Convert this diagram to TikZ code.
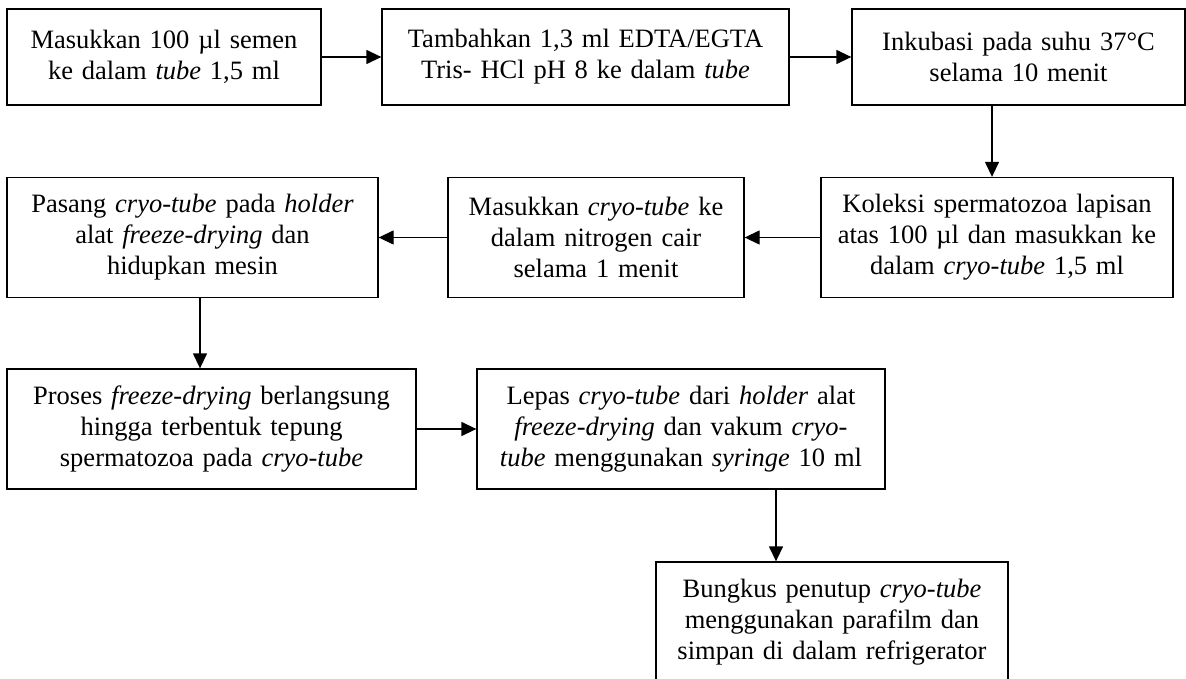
\documentclass[tikz,border=0pt]{standalone}
\usepackage{fontspec}
\setmainfont{Liberation Serif}
\usetikzlibrary{arrows.meta}
\tikzset{
  stepbox/.style={draw, line width=1.3pt, inner sep=0pt, align=center,
    font=\fontsize{26.5}{31}\selectfont},
  arr/.style={line width=1.3pt, -{Triangle[length=15pt,width=14pt]}}
}
\begin{document}
\begin{tikzpicture}[x=1pt,y=-1pt]
\useasboundingbox (0,0) rectangle (1186,679);
% row 1
\node[stepbox, minimum width=314pt, minimum height=96pt, text width=310pt] (b1) at (164,57)
  {Masukkan 100 µl semen\\ke dalam \textit{tube} 1,5 ml};
\node[stepbox, minimum width=407pt, minimum height=96pt, text width=403pt] (b2) at (585.5,57)
  {Tambahkan 1,3 ml EDTA/EGTA\\Tris- HCl pH 8 ke dalam \textit{tube}};
\node[stepbox, minimum width=333pt, minimum height=96pt, text width=329pt] (b3) at (1018.5,57)
  {Inkubasi pada suhu 37°C\\selama 10 menit};
% row 2
\node[stepbox, minimum width=352pt, minimum height=120pt, text width=348pt] (b4) at (997,237.5)
  {Koleksi spermatozoa lapisan\\atas 100 µl dan masukkan ke\\dalam \textit{cryo-tube} 1,5 ml};
\node[stepbox, minimum width=296pt, minimum height=120pt, text width=292pt] (b5) at (596,237.5)
  {Masukkan \textit{cryo-tube} ke\\dalam nitrogen cair\\selama 1 menit};
\node[stepbox, minimum width=371pt, minimum height=120pt, text width=367pt] (b6) at (192.5,237.5)
  {Pasang \textit{cryo-tube} pada \textit{holder}\\alat \textit{freeze-drying} dan\\hidupkan mesin};
% row 3
\node[stepbox, minimum width=409pt, minimum height=120pt, text width=405pt] (b7) at (211.5,429)
  {Proses \textit{freeze-drying} berlangsung\\hingga terbentuk tepung\\spermatozoa pada \textit{cryo-tube}};
\node[stepbox, minimum width=408pt, minimum height=120pt, text width=404pt] (b8) at (681,429)
  {Lepas \textit{cryo-tube} dari \textit{holder} alat\\\textit{freeze-drying} dan vakum \textit{cryo-}\\\textit{tube} menggunakan \textit{syringe} 10 ml};
% row 4
\node[stepbox, minimum width=352pt, minimum height=120pt, text width=348pt] (b9) at (832,622)
  {\raisebox{5pt}{\parbox{348pt}{\centering Bungkus penutup \textit{cryo-tube}\\menggunakan parafilm dan\\simpan di dalam refrigerator}}};
% connectors
\coordinate (c34) at (992,0);
\coordinate (c67) at (200,0);
\coordinate (c89) at (776,0);
\draw[arr] (b1.east) -- (b2.west);
\draw[arr] (b2.east) -- (b3.west);
\draw[arr] (c34 |- b3.south) -- (c34 |- b4.north);
\draw[arr] (b4.west) -- (b5.east);
\draw[arr] (b5.west) -- (b6.east);
\draw[arr] (c67 |- b6.south) -- (c67 |- b7.north);
\draw[arr] (b7.east) -- (b8.west);
\draw[arr] (c89 |- b8.south) -- (c89 |- b9.north);
\end{tikzpicture}
\end{document}
